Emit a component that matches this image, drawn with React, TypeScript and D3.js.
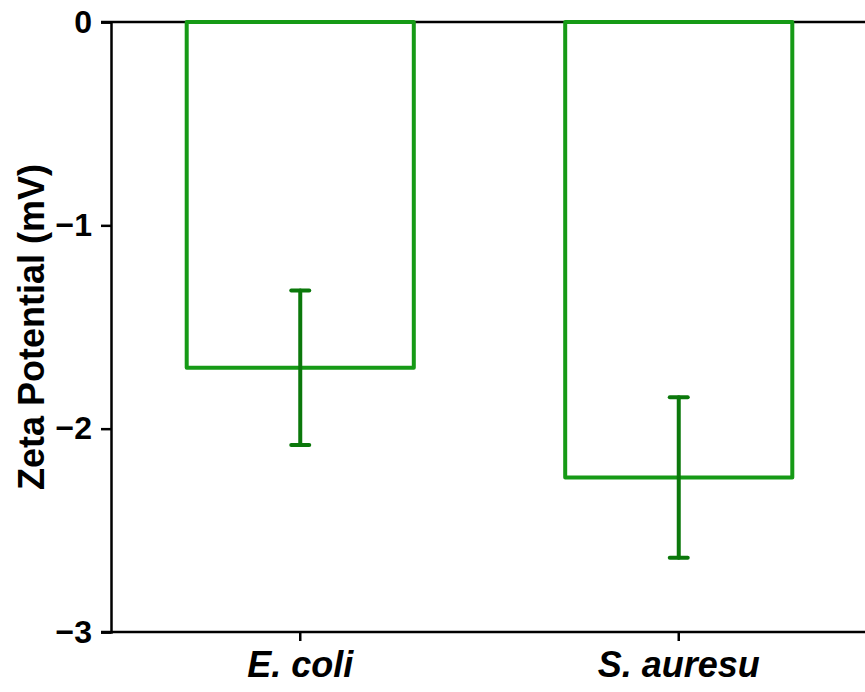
import React, { useEffect, useRef } from 'react'
import * as d3 from 'd3'

const categories = ['E. coli', 'S. auresu']
const means = [-1.7, -2.24]
const errors = [0.38, 0.395]
const yTicks = [0, -1, -2, -3]

const W = 865
const H = 692

export default function App() {
	const ref = useRef<SVGSVGElement>(null)

	useEffect(() => {
		const svg = d3.select(ref.current)
		svg.selectAll('*').remove()

		const left = 111
		const top = 22
		const bottom = 632
		const right = 868

		const x = d3.scaleBand().domain(categories).range([left, right]).paddingInner(0.4).paddingOuter(0.2)
		const y = d3.scaleLinear().domain([-3, 0]).range([bottom, top])

		const font = 'Liberation Sans, Arial, sans-serif'

		// zero line across the top
		svg.append('line')
			.attr('x1', left - 10).attr('x2', right)
			.attr('y1', y(0)).attr('y2', y(0))
			.attr('stroke', '#000').attr('stroke-width', 2.5)

		const yAxis = svg.append('g')
			.attr('transform', `translate(${left},0)`)
			.call(d3.axisLeft(y).tickValues(yTicks).tickSize(10).tickPadding(9)
				.tickFormat((d) => (+d === 0 ? '0' : '\u2212' + Math.abs(+d))))
		yAxis.select('.domain').attr('stroke', '#000').attr('stroke-width', 2.5)
		yAxis.selectAll('.tick line').attr('stroke', '#000').attr('stroke-width', 2.5)
		yAxis.selectAll('.tick text')
			.attr('font-family', font).attr('font-size', 32).attr('font-weight', 'bold').attr('fill', '#000')

		const xAxis = svg.append('g')
			.attr('transform', `translate(0,${bottom})`)
			.call(d3.axisBottom(x).tickSize(9).tickPadding(10).tickSizeOuter(0))
		xAxis.select('.domain').attr('stroke', '#000').attr('stroke-width', 2.5)
			.attr('d', `M${left - 10},0H${right}`)
		xAxis.selectAll('.tick line').attr('stroke', '#000').attr('stroke-width', 2.5)
		xAxis.selectAll('.tick text')
			.attr('font-family', font).attr('font-size', 36).attr('font-weight', 'bold')
			.attr('font-style', 'italic').attr('fill', '#000')

		const bars = svg.append('g')
		bars.selectAll('rect')
			.data(categories)
			.enter()
			.append('rect')
			.attr('x', (d) => x(d)!)
			.attr('y', y(0))
			.attr('width', x.bandwidth())
			.attr('height', (d, i) => y(means[i]) - y(0))
			.attr('fill', 'none')
			.attr('stroke', '#169a16')
			.attr('stroke-width', 4)
			.attr('stroke-linejoin', 'round')

		const err = svg.append('g').attr('stroke', '#0b780b').attr('stroke-width', 4).attr('stroke-linecap', 'round')
		categories.forEach((c, i) => {
			const cx = x(c)! + x.bandwidth() / 2
			const hi = y(means[i] + errors[i])
			const lo = y(means[i] - errors[i])
			err.append('line').attr('x1', cx).attr('x2', cx).attr('y1', hi).attr('y2', lo)
			err.append('line').attr('x1', cx - 9).attr('x2', cx + 9).attr('y1', hi).attr('y2', hi)
			err.append('line').attr('x1', cx - 9).attr('x2', cx + 9).attr('y1', lo).attr('y2', lo)
		})

		svg.append('text')
			.attr('transform', `translate(44,${(top + bottom) / 2}) rotate(-90)`)
			.attr('text-anchor', 'middle')
			.attr('font-family', font).attr('font-size', 36).attr('font-weight', 'bold')
			.text('Zeta Potential (mV)')
	}, [])

	return (
		<div style={{ position: 'absolute', left: 0, top: 0 }}>
			<svg ref={ref} width={W} height={H} style={{ display: 'block', background: '#fff' }} />
		</div>
	)
}
